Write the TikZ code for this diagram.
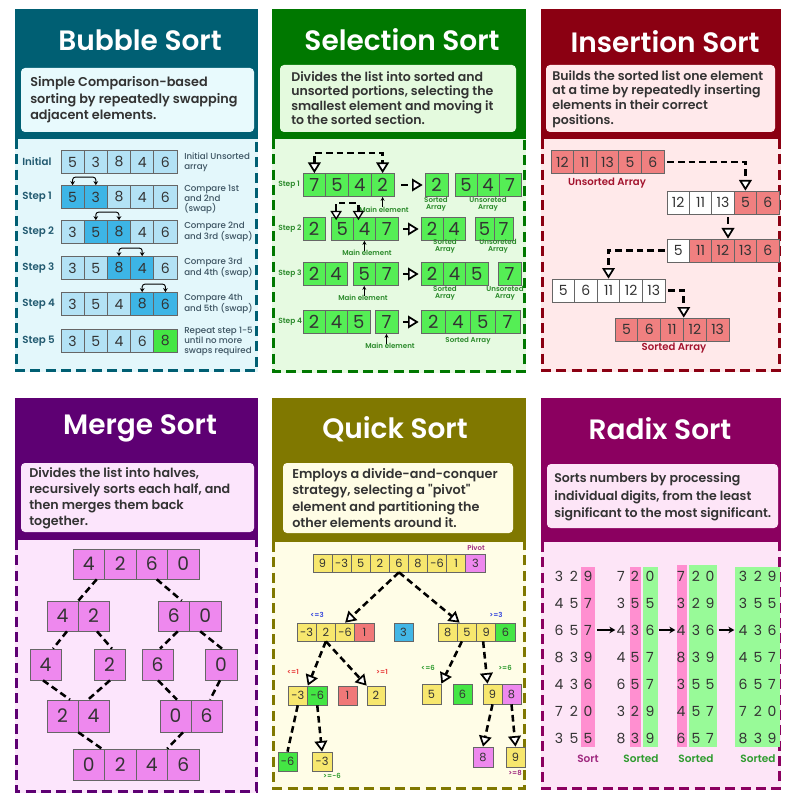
\documentclass[tikz,border=0pt]{standalone}
\usepackage{fontspec}
\setmainfont{Poppins}
\IfFontExistsTF{Poppins SemiBold}{\newfontfamily\semib{Poppins SemiBold}}{\newfontfamily\semib{Poppins}[FakeBold=1.2]}
\IfFontExistsTF{Poppins Medium}{\newfontfamily\medf{Poppins Medium}}{\newfontfamily\medf{Poppins}}
\usetikzlibrary{arrows.meta,calc}

\definecolor{txt}{HTML}{333333}
\definecolor{bubH}{HTML}{005F73}
\definecolor{bubBG}{HTML}{E3F7FB}
\definecolor{bubD}{HTML}{E8FAFD}
\definecolor{bubL}{HTML}{B3E2F5}
\definecolor{bubM}{HTML}{3DB5E6}
\definecolor{bubG}{HTML}{44E644}
\definecolor{bubT}{HTML}{225A70}
\definecolor{bubR}{HTML}{3E5563}
\definecolor{selH}{HTML}{007800}
\definecolor{selBG}{HTML}{E6FAE1}
\definecolor{selD}{HTML}{E4FADE}
\definecolor{selC}{HTML}{55EE55}
\definecolor{selT}{HTML}{2B8A2B}
\definecolor{insH}{HTML}{8B0012}
\definecolor{insBG}{HTML}{FFE9EA}
\definecolor{insD}{HTML}{FFE9EB}
\definecolor{insC}{HTML}{F08080}
\definecolor{insT}{HTML}{A3142E}
\definecolor{merH}{HTML}{5E0073}
\definecolor{merBG}{HTML}{FCE5FC}
\definecolor{merD}{HTML}{FCE5FC}
\definecolor{merC}{HTML}{EE88EE}
\definecolor{quiH}{HTML}{807800}
\definecolor{quiBG}{HTML}{FFFDE7}
\definecolor{quiD}{HTML}{FFFDE5}
\definecolor{quiY}{HTML}{F7E76E}
\definecolor{quiP}{HTML}{EE88EE}
\definecolor{quiR}{HTML}{F07878}
\definecolor{quiB}{HTML}{42B6E6}
\definecolor{quiG}{HTML}{44E644}
\definecolor{quiBl}{HTML}{3344DD}
\definecolor{quiRd}{HTML}{E83838}
\definecolor{radH}{HTML}{8B0060}
\definecolor{radBG}{HTML}{FDE5F7}
\definecolor{radD}{HTML}{FDE5F7}
\definecolor{radP}{HTML}{FF8FD0}
\definecolor{radG}{HTML}{98FA98}
\definecolor{radT}{HTML}{A02A80}
\definecolor{radS}{HTML}{2E9B2E}

\tikzset{
  cellbase/.style={draw=black!60, line width=0.5pt, inner sep=0pt, text=txt},
  ttl/.style={text=white, font=\semib\fontsize{21}{25}\selectfont, inner sep=0pt},
  dtext/.style={anchor=west, align=left, text=txt, inner sep=0pt},
  pborder/.style={line width=2.3pt, dash pattern=on 7.5pt off 4pt},
  blab/.style={anchor=west, text=bubT, font=\semib\fontsize{7.7}{9}\selectfont, inner sep=0pt},
  bdesc/.style={anchor=west, align=left, text=bubR, font=\medf\fontsize{6.5}{7.5}\selectfont, inner sep=0pt},
  bubarr/.style={line width=0.7pt, rounded corners=2pt, {Stealth[length=3pt,width=3.5pt]}-{Stealth[length=3pt,width=3.5pt]}},
  slab/.style={text=selT, font=\semib\fontsize{5.3}{5.6}\selectfont, inner sep=0pt, align=center},
  sstep/.style={anchor=west, text=selT, font=\semib\fontsize{5.6}{6}\selectfont, inner sep=0pt},
  dline/.style={line width=1.9pt, dash pattern=on 5pt off 3pt},
  darr/.style={dline, -{Triangle[open, fill=white, length=8pt, width=9.5pt, line width=1.3pt]}},
  ddarr/.style={dline, {Triangle[open, fill=white, length=8pt, width=9.5pt, line width=1.3pt]}-{Triangle[open, fill=white, length=8pt, width=9.5pt, line width=1.3pt]}},
  ddsmall/.style={dline, {Triangle[open, fill=white, length=7pt, width=8.5pt, line width=1pt]}-{Triangle[open, fill=white, length=7pt, width=8.5pt, line width=1pt]}},
  mainarr/.style={line width=0.6pt, -{Stealth[length=3pt,width=3pt]}},
  ilab/.style={text=insT, font=\semib\fontsize{7.6}{9}\selectfont, inner sep=0pt},
  qlab/.style={font=\semib\fontsize{5.2}{6}\selectfont, inner sep=0pt},
  rdig/.style={text=txt, font=\fontsize{10.5}{12}\selectfont, inner sep=0pt},
  rlab/.style={font=\semib\fontsize{7.9}{9}\selectfont, inner sep=0pt},
  rarr/.style={line width=1.5pt, -{Stealth[length=4.5pt,width=5pt]}},
}

% name, xleft, ycenter, cell width, cell height, font size, list value/colour
\newcommand\cellrow[7]{%
  \foreach \v/\c [count=\i] in {#7}{%
    \node[cellbase, fill=\c, font=\fontsize{#6}{#6}\selectfont,
      minimum width={#4*0.75pt}, minimum height={#5*0.75pt}]
      (#1-\i) at ({#2+(\i-0.5)*#4},#3) {\v};
  }%
}
% x1, x2, ytop, yheader, ybottom, header colour, light colour
\newcommand\panelframe[7]{%
  \fill[#7] (#1,#4) rectangle (#2,#5);
  \draw[#6, pborder] (#1+1.5,#4) -- (#1+1.5,#5-1.5) -- (#2-1.5,#5-1.5) -- (#2-1.5,#4);
  \fill[#6] (#1,#3) rectangle (#2,#4);
}

\begin{document}
\begin{tikzpicture}[x=0.75pt,y=-0.75pt]
\fill[white] (0,0) rectangle (798,805);
\useasboundingbox (0,0) rectangle (798,805);

% ================= frames =================
\panelframe{15}{258}{9}{139}{372}{bubH}{bubBG}
\panelframe{272}{526}{9}{139}{373}{selH}{selBG}
\panelframe{541}{781}{9}{139}{372}{insH}{insBG}
\panelframe{15}{258}{398}{540}{793}{merH}{merBG}
\panelframe{272}{526}{398}{542}{790}{quiH}{quiBG}
\panelframe{541}{781}{398}{542}{790}{radH}{radBG}

\fill[bubD, rounded corners=3pt] (21,68) rectangle (254,132);
\fill[selD, rounded corners=3pt] (280,65) rectangle (516,132);
\fill[insD, rounded corners=3pt] (546,65) rectangle (775,132);
\fill[merD, rounded corners=3pt] (21,463) rectangle (254,532);
\fill[quiD, rounded corners=3pt] (283,463) rectangle (513,533);
\fill[radD, rounded corners=3pt] (547,464) rectangle (778,528);

\node[ttl] (t1) at (140,40) {Bubble Sort};
\node[ttl] (t2) at (402,40) {Selection Sort};
\node[ttl] (t3) at (665,42) {Insertion Sort};
\node[ttl] (t4) at (140,428) {Merge Sort};
\node[ttl] (t5) at (395,429) {Quick Sort};
\node[ttl] (t6) at (660,429) {Radix Sort};

\node[dtext, font=\semib\fontsize{9.6}{12.5}\selectfont] (d1) at (30,100)
  {Simple Comparison-based\\sorting by repeatedly swapping\\adjacent elements.};
\node[dtext, font=\semib\fontsize{9.4}{10.9}\selectfont] (d2) at (291,98)
  {Divides the list into sorted and\\unsorted portions, selecting the\\smallest element and moving it\\to the sorted section.};
\node[dtext, font=\semib\fontsize{9.4}{10.9}\selectfont] (d3) at (552,99)
  {Builds the sorted list one element\\at a time by repeatedly inserting\\elements in their correct\\positions.};
\node[dtext, font=\semib\fontsize{9.5}{12}\selectfont] (d4) at (29,498)
  {Divides the list into halves,\\recursively sorts each half, and\\then merges them back\\together.};
\node[dtext, font=\semib\fontsize{9.6}{12.2}\selectfont] (d5) at (292,498)
  {Employs a divide-and-conquer\\strategy, selecting a "pivot"\\element and partitioning the\\other elements around it.};
\node[dtext, font=\semib\fontsize{9.4}{13}\selectfont] (d6) at (554,497)
  {Sorts numbers by processing\\individual digits, from the least\\significant to the most significant.};

% ================= Bubble sort =================
\node[blab] (bl0) at (22,162) {Initial};
\node[blab] (bl1) at (22,197) {Step 1};
\node[blab] (bl2) at (22,232) {Step 2};
\node[blab] (bl3) at (22,268) {Step 3};
\node[blab] (bl4) at (22,304) {Step 4};
\node[blab] (bl5) at (22,341) {Step 5};
\cellrow{b0}{61}{162}{23.2}{23}{10.5}{5/bubL,3/bubL,8/bubL,4/bubL,6/bubL}
\cellrow{b1}{61}{197}{23.2}{23}{10.5}{5/bubM,3/bubM,8/bubL,4/bubL,6/bubL}
\cellrow{b2}{61}{232}{23.2}{23}{10.5}{3/bubL,5/bubM,8/bubM,4/bubL,6/bubL}
\cellrow{b3}{61}{268}{23.2}{23}{10.5}{3/bubL,5/bubL,8/bubM,4/bubM,6/bubL}
\cellrow{b4}{61}{304}{23.2}{23}{10.5}{3/bubL,5/bubL,4/bubL,8/bubM,6/bubM}
\cellrow{b5}{61}{341}{23.2}{23}{10.5}{3/bubL,5/bubL,4/bubL,6/bubL,8/bubG}
\draw[bubarr] (b1-1.north) -- ++(0,-8) -| (b1-2.north);
\draw[bubarr] (b2-2.north) -- ++(0,-8) -| (b2-3.north);
\draw[bubarr] (b3-3.north) -- ++(0,-8) -| (b3-4.north);
\draw[bubarr] (b4-4.north) -- ++(0,-8) -| (b4-5.north);
\node[bdesc] (bd0) at (184,162) {Initial Unsorted\\array};
\node[bdesc] (bd1) at (184,199) {Compare 1st\\and 2nd\\(swap)};
\node[bdesc] (bd2) at (184,232) {Compare 2nd\\and 3rd (swap)};
\node[bdesc] (bd3) at (184,268) {Compare 3rd\\and 4th (swap)};
\node[bdesc] (bd4) at (184,304) {Compare 4th\\and 5th (swap)};
\node[bdesc] (bd5) at (184,341) {Repeat step 1-5\\until no more\\swaps required};

% ================= Selection sort =================
\node[sstep] (ss1) at (278,185) {Step 1};
\node[sstep] (ss2) at (278,229) {Step 2};
\node[sstep] (ss3) at (278,274) {Step 3};
\node[sstep] (ss4) at (278,322) {Step 4};
% step 1
\cellrow{s1}{303}{185}{22.75}{23}{13.5}{7/selC,5/selC,4/selC,2/selC}
\cellrow{s1s}{425}{185}{23}{23}{13.5}{2/selC}
\cellrow{s1u}{455}{185}{22}{23}{13.5}{5/selC,4/selC,7/selC}
\draw[ddarr] (s1-1.north) -- ++(0,-20) -| (s1-4.north);
\draw[mainarr] ($(s1-4.south)+(0,10)$) -- (s1-4.south);
\node[slab] (s1m) at (384,210) {Main element};
\draw[darr] ($(s1-4.east)+(7,0)$) -- ($(s1s-1.west)+(-2,0)$);
\node[slab] (s1sl) at (436,204.5) {Sorted\\Array};
\node[slab] (s1ul) at (488,204.5) {Unsoreted\\Array};
% step 2
\cellrow{s2a}{303}{229}{22}{23}{13.5}{2/selC}
\cellrow{s2b}{331}{229}{22.3}{23}{13.5}{5/selC,4/selC,7/selC}
\cellrow{s2s}{421}{229}{22}{23}{13.5}{2/selC,4/selC}
\cellrow{s2u}{475}{229}{19}{23}{13.5}{5/selC,7/selC}
\draw[ddsmall] ($(s2b-1.north)+(-6,3)$) -- ++(0,-17) -| ($(s2b-2.north)+(-6,3)$);
\draw[mainarr] ($(s2b-2.south)+(0,10)$) -- (s2b-2.south);
\node[slab] (s2m) at (367,253) {Main element};
\draw[darr] ($(s2b-3.east)+(5,0)$) -- ($(s2s-1.west)+(-2,0)$);
\node[slab] (s2sl) at (445,246.5) {Sorted\\Array};
\node[slab] (s2ul) at (498,246.5) {Unsoreted\\Array};
% step 3
\cellrow{s3a}{303}{274}{22}{23}{13.5}{2/selC,4/selC}
\cellrow{s3b}{353}{274}{22.5}{23}{13.5}{5/selC,7/selC}
\cellrow{s3s}{421}{274}{22.3}{23}{13.5}{2/selC,4/selC,5/selC}
\cellrow{s3u}{498}{274}{23}{23}{13.5}{7/selC}
\draw[mainarr] ($(s3b-1.south)+(0,10)$) -- (s3b-1.south);
\node[slab] (s3m) at (363,298) {Main element};
\draw[darr] ($(s3b-2.east)+(5,0)$) -- ($(s3s-1.west)+(-2,0)$);
\node[slab] (s3sl) at (445,293.5) {Sorted\\Array};
\node[slab] (s3ul) at (505,293.5) {Unsoreted\\Array};
% step 4
\cellrow{s4a}{303}{322}{22.3}{23}{13.5}{2/selC,4/selC,5/selC}
\cellrow{s4b}{375}{322}{23}{23}{13.5}{7/selC}
\cellrow{s4s}{421}{322}{24.75}{23}{13.5}{2/selC,4/selC,5/selC,7/selC}
\draw[mainarr] ($(s4b-1.south)+(0,10)$) -- (s4b-1.south);
\node[slab] (s4m) at (390,346) {Main element};
\draw[darr] ($(s4b-1.east)+(5,0)$) -- ($(s4s-1.west)+(-2,0)$);
\node[slab] (s4sl) at (468,341) {Sorted Array};

% ================= Insertion sort =================
\cellrow{i1}{551}{162}{22.6}{23}{10.5}{12/insC,11/insC,13/insC,5/insC,6/insC}
\node[ilab] (i1l) at (607,183) {Unsorted Array};
\cellrow{i2}{667}{202.5}{22.4}{23}{10.5}{12/white,11/white,13/white,5/insC,6/insC}
\cellrow{i3}{667}{250.5}{22.4}{23}{10.5}{5/white,11/insC,12/insC,13/insC,6/insC}
\cellrow{i4}{552}{290.5}{22.6}{23}{10.5}{5/white,6/white,11/white,12/white,13/white}
\cellrow{i5}{615}{329.5}{22.8}{23}{10.5}{5/insC,6/insC,11/insC,12/insC,13/insC}
\node[ilab] (i5l) at (674,348) {Sorted Array};
\draw[darr] ($(i1-5.east)+(3,0)$) -| (i2-4.north);
\draw[darr] ($(i2-3.south)+(5,3)$) -- ($(i3-3.north)+(5,0)$);
\draw[darr] ($(i3-1.west)+(-2,0)$) -| (i4-3.north);
\draw[darr] ($(i4-5.east)+(3,0)$) -| (i5-3.north east);

% ================= Merge sort =================
\cellrow{m1}{73}{564}{31.5}{30}{14}{4/merC,2/merC,6/merC,0/merC}
\cellrow{m2}{47}{616}{31}{30}{14}{4/merC,2/merC}
\cellrow{m2r}{158}{616}{31.5}{30}{14}{6/merC,0/merC}
\cellrow{m3a}{30}{664.5}{31}{31}{14}{4/merC}
\cellrow{m3b}{94}{664.5}{31}{31}{14}{2/merC}
\cellrow{m3c}{142}{664.5}{31}{31}{14}{6/merC}
\cellrow{m3d}{205}{664.5}{32}{31}{14}{0/merC}
\cellrow{m4}{47}{716}{31}{32}{14}{2/merC,4/merC}
\cellrow{m4r}{160}{716}{31}{32}{14}{0/merC,6/merC}
\cellrow{m5}{73}{764.5}{31.5}{31}{14}{0/merC,2/merC,4/merC,6/merC}
\draw[dline] ($(m1-1.south)+(8,0)$) -- (m2-1.north east);
\draw[dline] ($(m1-3.south)+(5,0)$) -- ($(m2r-1.north)+(8,0)$);
\draw[dline] ($(m2-1.south)+(4.5,0)$) -- ($(m3a-1.north)+(7.5,0)$);
\draw[dline] ($(m2-2.south)+(3.5,0)$) -- ($(m3b-1.north)+(2.5,0)$);
\draw[dline] ($(m2r-1.south)+(4,0)$) -- ($(m3c-1.north)+(2.5,0)$);
\draw[dline] ($(m2r-2.south)+(-5,0)$) -- ($(m3d-1.north)+(1,0)$);
\draw[dline] ($(m3a-1.south)+(-2.5,0)$) -- ($(m4-1.north)+(7.5,0)$);
\draw[dline] ($(m3b-1.south)+(0.5,0)$) -- ($(m4-2.north)+(-5.5,0)$);
\draw[dline] ($(m3c-1.south)+(0.5,0)$) -- ($(m4r-1.north)+(1.5,0)$);
\draw[dline] ($(m3d-1.south)+(-1,0)$) -- ($(m4r-2.north)+(3.5,0)$);
\draw[dline] (m4-1.south east) -- ($(m5-1.north)+(13,0)$);
\draw[dline] ($(m4r-1.south)+(7.5,0)$) -- (m5-4.north west);

% ================= Quick sort =================
\cellrow{q0}{313}{563}{19.1}{18}{8.5}{9/quiY,-3/quiY,5/quiY,2/quiY,6/quiY,8/quiY,-6/quiY,1/quiY,3/quiP}
\node[qlab, text=radT] (qpv) at (476,548) {Pivot};
\cellrow{ql}{297}{632}{19.25}{18}{8.5}{-3/quiY,2/quiY,-6/quiY,1/quiR}
\cellrow{qm}{394}{632}{19}{18}{8.5}{3/quiB}
\cellrow{qr}{438}{632}{19.25}{18}{8.5}{8/quiY,5/quiY,9/quiY,6/quiG}
\draw[darr] (q0-5.south) -- (ql-3.north);
\draw[darr] (q0-5.south) -- ($(qr-1.north)+(12,0)$);
\node[qlab, text=quiBl] (qla) at (317,615) {<=3};
\node[qlab, text=quiBl] (qlb) at (496,615) {>=3};
\cellrow{qll}{288}{695.5}{19.5}{19}{8.5}{-3/quiY,-6/quiG}
\cellrow{q1}{338}{695.5}{19}{19}{8.5}{1/quiR}
\cellrow{q2}{367}{695.5}{18}{19}{8.5}{2/quiY}
\draw[darr] (ql-2.south) -- (qll-1.north east);
\draw[darr] (ql-2.south) -- (q2-1.north west);
\node[qlab, text=quiRd] (qlc) at (293,672) {<=1};
\node[qlab, text=quiRd] (qld) at (382,672) {>=1};
\cellrow{q5}{422}{694}{19}{20}{8.5}{5/quiY}
\cellrow{q6}{453}{694}{19}{20}{8.5}{6/quiG}
\cellrow{qrr}{483}{694}{19}{20}{8.5}{9/quiY,8/quiP}
\draw[darr] ($(qr-2.south)+(-5,0)$) -- (q5-1.north east);
\draw[darr] ($(qr-3.south)+(-3,0)$) -- ($(qrr-1.north)+(-5,0)$);
\node[qlab, text=radS] (qle) at (428,668) {<=6};
\node[qlab, text=radS] (qlf) at (505,668) {>=6};
\cellrow{qb1}{278}{761.5}{19}{19}{8.5}{-6/quiG}
\cellrow{qb2}{312}{761.5}{20}{19}{8.5}{-3/quiY}
\draw[dline] (qll-1.south) -- (qb1-1.north);
\draw[darr] (qll-2.south) -- (qb2-1.north);
\node[qlab, text=radS] (qlg) at (332,776) {>=-6};
\cellrow{qb3}{473}{757}{20}{20}{8.5}{8/quiP}
\cellrow{qb4}{506}{757}{19}{20}{8.5}{9/quiY}
\draw[darr] (qrr-1.south) -- (qb3-1.north);
\draw[darr] (qrr-2.south) -- (qb4-1.north);
\node[qlab, text=radT] (qlh) at (515,773) {>=8};

% ================= Radix sort =================
\fill[radP] (581,567) rectangle (595,747);
\fill[radP] (630,567) rectangle (641,747);
\fill[radG] (643,567) rectangle (658,747);
\fill[radP] (677,565) rectangle (687,747);
\fill[radG] (689,565) rectangle (717,747);
\fill[radG] (735,567) rectangle (780,747);
\foreach \a/\b/\c [count=\r] in {3/2/9,4/5/7,6/5/7,8/3/9,4/3/6,7/2/0,3/5/5}{
  \node[rdig] (ra-\r-1) at (559,{576+(\r-1)*27}) {\a};
  \node[rdig] (ra-\r-2) at (574,{576+(\r-1)*27}) {\b};
  \node[rdig] (ra-\r-3) at (588,{576+(\r-1)*27}) {\c};
}
\foreach \a/\b/\c [count=\r] in {7/2/0,3/5/5,4/3/6,4/5/7,6/5/7,3/2/9,8/3/9}{
  \node[rdig] (rb-\r-1) at (621,{576+(\r-1)*27}) {\a};
  \node[rdig] (rb-\r-2) at (635,{576+(\r-1)*27}) {\b};
  \node[rdig] (rb-\r-3) at (650,{576+(\r-1)*27}) {\c};
}
\foreach \a/\b/\c [count=\r] in {7/2/0,3/2/9,4/3/6,8/3/9,3/5/5,4/5/7,6/5/7}{
  \node[rdig] (rc-\r-1) at (681,{576+(\r-1)*27}) {\a};
  \node[rdig] (rc-\r-2) at (696,{576+(\r-1)*27}) {\b};
  \node[rdig] (rc-\r-3) at (710,{576+(\r-1)*27}) {\c};
}
\foreach \a/\b/\c [count=\r] in {3/2/9,3/5/5,4/3/6,4/5/7,6/5/7,7/2/0,8/3/9}{
  \node[rdig] (rd-\r-1) at (743,{576+(\r-1)*27}) {\a};
  \node[rdig] (rd-\r-2) at (758,{576+(\r-1)*27}) {\b};
  \node[rdig] (rd-\r-3) at (772,{576+(\r-1)*27}) {\c};
}
\draw[rarr] ($(ra-3-3.east)+(5,0)$) -- ($(rb-3-1.west)+(-1,0)$);
\draw[rarr] ($(rb-3-3.east)+(4,0)$) -- ($(rc-3-1.west)+(-1,0)$);
\draw[rarr] ($(rc-3-3.east)+(4,0)$) -- ($(rd-3-1.west)+(-4,0)$);
\node[rlab, text=radT] (rl1) at (588,759) {Sort};
\node[rlab, text=radS] (rl2) at (641,759) {Sorted};
\node[rlab, text=radS] (rl3) at (696,759) {Sorted};
\node[rlab, text=radS] (rl4) at (758,759) {Sorted};
\end{tikzpicture}
\end{document}
